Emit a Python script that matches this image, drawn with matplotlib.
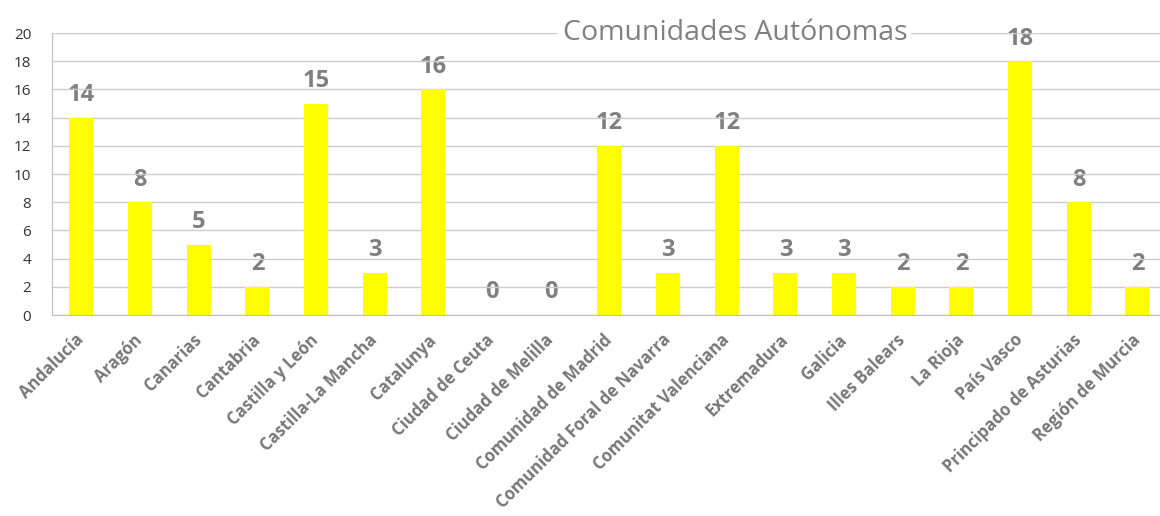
import matplotlib.pyplot as plt
import numpy as np

plt.rcParams['font.family'] = ['Open Sans', 'DejaVu Sans']

regions = ['Andalucía', 'Aragón', 'Canarias', 'Cantabria', 'Castilla y León',
           'Castilla-La Mancha', 'Catalunya', 'Ciudad de Ceuta', 'Ciudad de Melilla',
           'Comunidad de Madrid', 'Comunidad Foral de Navarra', 'Comunitat Valenciana',
           'Extremadura', 'Galicia', 'Illes Balears', 'La Rioja', 'País Vasco',
           'Principado de Asturias', 'Región de Murcia']
counts = [14, 8, 5, 2, 15, 3, 16, 0, 0, 12, 3, 12, 3, 3, 2, 2, 18, 8, 2]
yticks = [0, 2, 4, 6, 8, 10, 12, 14, 16, 18, 20]

fig = plt.figure(figsize=(11.6, 5.16), dpi=100)
ax = fig.add_axes([0.0448, 0.3895, 0.961, 0.5465])

x = np.arange(len(regions))
ax.bar(x, counts, width=0.41, color='#FFFF00', zorder=1)

for xi, v in zip(x, counts):
    ax.annotate(str(v), (xi, v), xytext=(0, 12), textcoords='offset points',
                ha='center', va='baseline', fontsize=17, fontweight='bold',
                color='#7f7f7f', zorder=0.2)

ax.set_xlim(-0.5, len(regions) - 0.5)
ax.set_ylim(0, 20)
ax.set_yticks(yticks)
ax.set_xticks(x)
ax.set_xticklabels(regions, rotation=45, ha='right', va='center',
                   rotation_mode='anchor', fontsize=12, fontweight='bold',
                   color='#777777')
ax.tick_params(axis='x', length=0, pad=16)
ax.tick_params(axis='y', length=0, pad=15, labelsize=11, labelcolor='#333333')

ax.set_axisbelow(True)
ax.yaxis.grid(True, color='#cccccc', linewidth=1.0, zorder=0.5)
for side in ['top', 'right']:
    ax.spines[side].set_visible(False)
ax.spines['left'].set_color('#bfbfbf')
ax.spines['bottom'].set_color('#bfbfbf')

ax.text(0.6126, 1.0, 'Comunidades Autónomas', transform=ax.transAxes,
        ha='center', va='center', fontsize=20.5, color='#808080', zorder=5,
        bbox=dict(facecolor='white', edgecolor='none', pad=3))

fig.savefig('out.png', dpi=100)
